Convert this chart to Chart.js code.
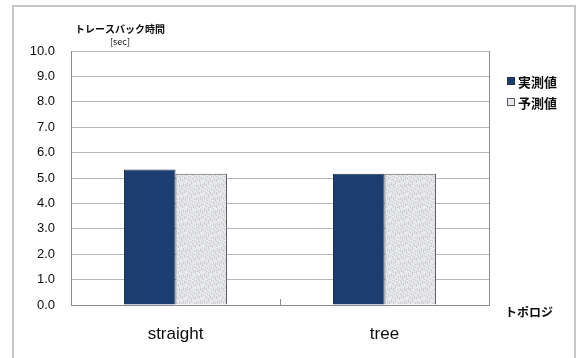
<!DOCTYPE html>
<html>
<head>
<meta charset="utf-8">
<script src="https://cdn.jsdelivr.net/npm/chart.js@4.4.1/dist/chart.umd.min.js"></script>
<style>
  html, body { margin: 0; padding: 0; background: #ffffff; }
  #wrap { width: 577px; height: 358px; }
</style>
</head>
<body>
<div id="wrap"><canvas id="c" width="577" height="358"></canvas></div>
<script>
// Topologies on the x axis
const categories = ['straight', 'tree'];
// Traceback time [sec]
const measured = [5.33, 5.17];
const predicted = [5.17, 5.17];
const seriesNames = ['実測値', '予測値'];
const yTitle = 'トレースバック時間';
const yUnit = '[sec]';
const xTitle = 'トポロジ';

const JP = '"Noto Sans CJK JP", "Noto Sans", sans-serif';
const LAT = '"Liberation Sans", Arial, sans-serif';
const INK = '#0d0d0d';

// Light speckled fill for the predicted series
function speckle() {
  const c = document.createElement('canvas');
  c.width = 17; c.height = 13;
  const g = c.getContext('2d');
  g.fillStyle = '#e5e7e8';
  g.fillRect(0, 0, c.width, c.height);
  const tones = ['#c8ccd0', '#d6cfd2', '#ccd3da', '#f7f7f7', '#c3c7cb', '#dad3d8'];
  for (let i = 0; i < 80; i++) {
    const x = (i * 7 + (i >> 2)) % c.width;
    const y = (i * 5 + (i >> 3) * 3) % c.height;
    g.fillStyle = tones[i % tones.length];
    g.fillRect(x, y, 1, 1);
  }
  return g.createPattern(c, 'repeat');
}
const lightFill = speckle();

// Frame, axis captions, right border, category divider ticks and legend
const decor = {
  id: 'decor',
  beforeDraw(chart) {
    const g = chart.ctx;
    g.save();
    g.fillStyle = '#ffffff';
    g.fillRect(0, 0, chart.width, chart.height);
    g.strokeStyle = '#c6c6c6';
    g.lineWidth = 2;
    g.strokeRect(13, 6, 562, 360);
    g.restore();
  },
  afterDraw(chart) {
    const g = chart.ctx;
    const a = chart.chartArea;
    const xs = chart.scales.x;
    g.save();
    // right edge of the plot
    g.strokeStyle = '#8c8c8c';
    g.lineWidth = 1;
    g.beginPath();
    g.moveTo(Math.round(a.right) + 0.5, a.top);
    g.lineTo(Math.round(a.right) + 0.5, a.bottom);
    g.stroke();
    // small ticks between categories
    for (let i = 1; i < categories.length; i++) {
      const x = Math.round((xs.getPixelForTick(i - 1) + xs.getPixelForTick(i)) / 2) + 0.5;
      g.beginPath();
      g.moveTo(x, a.bottom);
      g.lineTo(x, a.bottom - 6);
      g.stroke();
    }
    // y axis caption
    g.fillStyle = INK;
    g.textAlign = 'center';
    g.textBaseline = 'middle';
    g.font = 'bold 10px ' + JP;
    g.fillText(yTitle, a.left + 49, a.top - 22);
    g.font = '9px ' + JP;
    g.fillText(yUnit, a.left + 49, a.top - 9);
    // x axis caption
    g.textAlign = 'left';
    g.font = 'bold 12px ' + JP;
    g.fillText(xTitle, a.right + 16, a.bottom + 7);
    // legend
    const ds = chart.data.datasets;
    g.font = 'bold 13px ' + JP;
    ds.forEach((d, i) => {
      const cy = 81 + i * 21;
      const bx = a.right + 18;
      g.fillStyle = d.legendSwatch;
      g.fillRect(bx, cy - 4, 8, 8);
      g.strokeStyle = d.borderColor;
      g.lineWidth = 1;
      g.strokeRect(bx + 0.5, cy - 3.5, 7, 7);
      g.fillStyle = INK;
      g.fillText(d.label, bx + 11, cy + 1);
    });
    g.restore();
  }
};

new Chart(document.getElementById('c'), {
  type: 'bar',
  data: {
    labels: categories,
    datasets: [
      {
        label: seriesNames[0],
        data: measured,
        backgroundColor: '#1b3d70',
        borderColor: '#23324a',
        legendSwatch: '#1b3d70',
        borderWidth: 1,
        categoryPercentage: 0.493,
        barPercentage: 1.0
      },
      {
        label: seriesNames[1],
        data: predicted,
        backgroundColor: lightFill,
        borderColor: '#5a5f66',
        legendSwatch: '#e4e6e8',
        borderWidth: 1,
        categoryPercentage: 0.493,
        barPercentage: 1.0
      }
    ]
  },
  options: {
    responsive: false,
    animation: false,
    devicePixelRatio: 1,
    layout: { padding: { left: 0, right: 88, top: 51, bottom: 0 } },
    plugins: {
      legend: { display: false },
      tooltip: { enabled: false }
    },
    scales: {
      x: {
        grid: { display: false, drawTicks: false },
        border: { display: true, color: '#8c8c8c', width: 1 },
        ticks: {
          color: INK,
          font: { family: LAT, size: 17 },
          padding: 19
        },
        afterFit(s) { s.height = 53; }
      },
      y: {
        min: 0,
        max: 10,
        ticks: {
          stepSize: 1,
          color: INK,
          font: { family: LAT, size: 13 },
          padding: 16,
          callback: v => Number(v).toFixed(1)
        },
        grid: { color: '#b8b8b8', lineWidth: 1, drawTicks: false },
        border: { display: true, color: '#8c8c8c', width: 1 },
        afterFit(s) { s.width = 71; }
      }
    }
  },
  plugins: [decor]
});
</script>
</body>
</html>
